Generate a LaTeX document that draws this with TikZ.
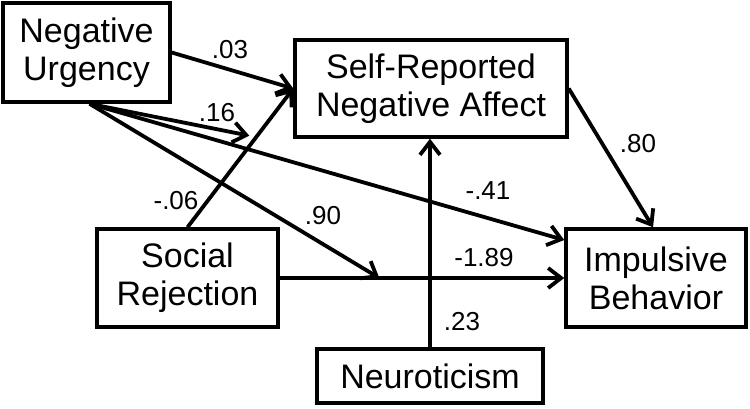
\documentclass[tikz,border=0pt]{standalone}
\usepackage{fontspec}
\setmainfont{Liberation Sans}
\usetikzlibrary{arrows.meta,calc}
\begin{document}
\begin{tikzpicture}[x=1pt,y=-1pt,
  box/.style={draw,line width=3.5pt,align=center,inner sep=0pt,
    font=\fontsize{34}{38}\selectfont},
  conn/.style={line width=3.8pt,-{Straight Barb[length=13pt,width=20pt,line width=3.8pt]}},
  lab/.style={font=\fontsize{26}{30}\selectfont,inner sep=0pt}]
\useasboundingbox (0,0) rectangle (750,408);
\node[box,minimum width=167pt,minimum height=99pt] (nu) at (86.5,52.5) {Negative\\Urgency};
\node[box,minimum width=272pt,minimum height=97pt] (sr) at (431,88.5) {Self-Reported\\Negative Affect};
\node[box,minimum width=181pt,minimum height=98pt] (sj) at (187.5,278) {Social\\Rejection};
\node[box,minimum width=226pt,minimum height=54pt] (ne) at (430,376) {Neuroticism};
\node[box,minimum width=180pt,minimum height=98pt] (ib) at (656,278) {Impulsive\\Behavior};
\coordinate (nus) at ($(nu.south)+(3,0)$);
\coordinate (m1) at ($(sj.east)!0.35!(ib.west)$);
\coordinate (t16) at ($(sj.north)!0.66!(sr.west)+(-8,0)$);
\coordinate (ibw) at ($(ib.west)+(0,-38)$);
\draw[conn] (nu.east) -- (sr.west);
\draw[conn] (sj.north) -- (sr.west);
\draw[conn] (nus) -- (t16);
\draw[conn] (nus) -- (ibw);
\draw[conn] (nus) -- (m1);
\draw[conn] (sj.east) -- (ib.west);
\draw[conn] (ne.north) -- (ne.north |- sr.south);
\draw[conn] (sr.east) -- ($(ib.north)+(-3,0)$);
\node[lab] (l03) at (230,50) {.03};
\node[lab] (l16) at (217,113) {.16};
\node[lab] (l06) at (176,201) {-.06};
\node[lab] (l90) at (323,216) {.90};
\node[lab] (l41) at (488,191) {-.41};
\node[lab] (l189) at (484,258) {-1.89};
\node[lab] (l23) at (462,322) {.23};
\node[lab] (l80) at (638,144) {.80};
\end{tikzpicture}
\end{document}
